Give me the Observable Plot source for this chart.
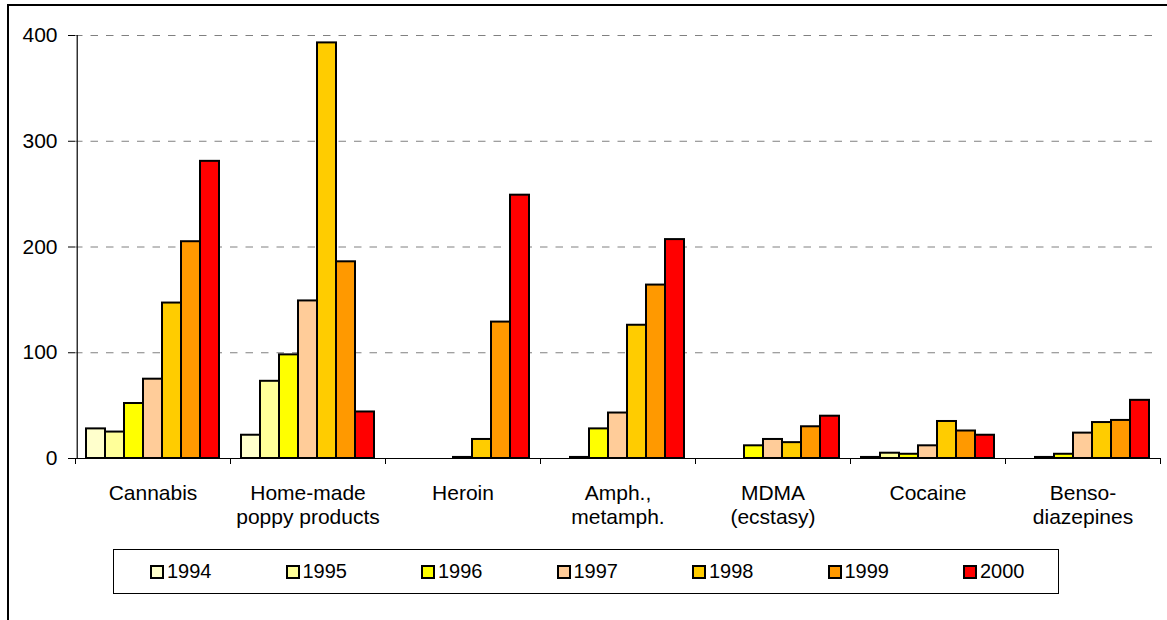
<!DOCTYPE html>
<html>
<head>
<meta charset="utf-8">
<script src="https://cdn.jsdelivr.net/npm/d3@7"></script>
<script src="https://cdn.jsdelivr.net/npm/@observablehq/plot@0.6"></script>
<style>
html, body { margin: 0; padding: 0; background: #fff; width: 1167px; height: 620px; overflow: hidden;
  font-family: "Liberation Sans", Arial, sans-serif; }
#frame { position: absolute; left: 7px; top: 4px; width: 1300px; height: 800px;
  border-left: 2px solid #000; border-top: 2px solid #000; }
#chart { position: absolute; left: 0; top: 0; }
#legend { position: absolute; left: 113px; top: 549px; width: 946px; height: 45px;
  border: 1px solid #000; box-sizing: border-box; background: #fff; }
.item { position: absolute; top: 0; height: 43px; display: flex; align-items: center;
  font-size: 20px; color: #000; }
.sw { width: 10px; height: 10px; border: 2px solid #000; margin-right: 3px; }
</style>
</head>
<body>
<div id="frame"></div>
<div id="chart"></div>
<div id="legend"></div>
<script>
const categories = ["Cannabis", "Home-made\npoppy products", "Heroin", "Amph.,\nmetamph.", "MDMA\n(ecstasy)", "Cocaine", "Benso-\ndiazepines"];
const years = ["1994", "1995", "1996", "1997", "1998", "1999", "2000"];
const colors = ["#FFFFCC", "#FFFF99", "#FFFF00", "#FFCC99", "#FFCC00", "#FF9900", "#FF0000"];
const yTicks = [0, 100, 200, 300, 400];

const v1994 = [28, 22, 0, 0, 0, 1, 0];
const v1995 = [25, 73, 0, 1, 0, 5, 1];
const v1996 = [52, 98, 0, 28, 12, 4, 4];
const v1997 = [75, 149, 1, 43, 18, 12, 24];
const v1998 = [147, 393, 18, 126, 15, 35, 34];
const v1999 = [205, 186, 129, 164, 30, 26, 36];
const v2000 = [281, 44, 249, 207, 40, 22, 55];
const series = [v1994, v1995, v1996, v1997, v1998, v1999, v2000];

const data = categories.flatMap((c, i) => years.map((y, j) => ({category: c, year: y, value: series[j][i]})))
  .filter(d => d.value > 0);

const W = 1167, H = 535, ML = 75, MR = 7, MT = 35, MB = 77;
const PO = 0.46;
const half = (W - ML - MR) / categories.length / 2;
const xStep = (2 * half) / (years.length + 2 * PO);
const xOff = PO * xStep + xStep / 2;

const chart = Plot.plot({
  width: W, height: H,
  marginLeft: ML, marginRight: MR, marginTop: MT, marginBottom: MB,
  style: {fontFamily: "'Liberation Sans', Arial, sans-serif", fontSize: "21px", color: "#000", background: "transparent", overflow: "visible"},
  fx: {domain: categories, padding: 0, label: null},
  x: {domain: years, paddingInner: 0, paddingOuter: PO, axis: null},
  y: {domain: [0, 400], label: null},
  color: {domain: years, range: colors},
  marks: [
    Plot.gridY(yTicks.filter(t => t > 0), {stroke: "#808080", strokeOpacity: 1, strokeDasharray: "7.5,8"}),
    Plot.ruleY([0], {stroke: "#000"}),
    Plot.barY(data, {fx: "category", x: "year", y: "value", fill: "year", stroke: "#000", strokeWidth: 2}),
    Plot.ruleX([categories[0]], {fx: d => d, x: () => years[0], y1: 0, y2: yTicks[yTicks.length - 1], dx: -xOff, stroke: "#000", strokeWidth: 1.2}),
    Plot.axisY(yTicks, {tickSize: 7, tickPadding: 11, label: null, stroke: "#000"}),
    Plot.axisFx({anchor: "bottom", tickSize: 0, tickPadding: 24, lineHeight: 1.15, label: null}),
    Plot.axisFx({anchor: "bottom", tickSize: 6, tickFormat: () => "", dx: -half, label: null, stroke: "#000"}),
    Plot.axisFx({anchor: "bottom", ticks: [categories[categories.length - 1]], tickSize: 6, tickFormat: () => "", dx: half, label: null, stroke: "#000"})
  ]
});
document.getElementById("chart").appendChild(chart);

const legend = d3.select("#legend");
years.forEach((y, i) => {
  const it = legend.append("div").attr("class", "item").style("left", (36 + i * 135.5) + "px");
  it.append("div").attr("class", "sw").style("background", colors[i]);
  it.append("span").text(y);
});
</script>
</body>
</html>
